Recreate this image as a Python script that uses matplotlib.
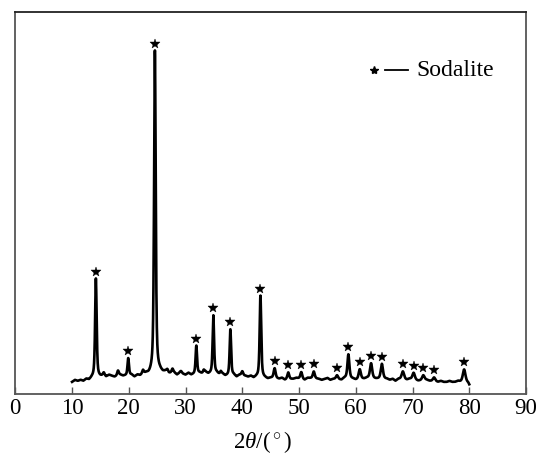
import numpy as np
import matplotlib
matplotlib.use("Agg")
import matplotlib.pyplot as plt

plt.rcParams['font.family'] = ['Liberation Serif', 'DejaVu Serif']
plt.rcParams['mathtext.fontset'] = 'custom'
plt.rcParams['mathtext.rm'] = 'Liberation Serif'
plt.rcParams['mathtext.it'] = 'Liberation Serif:italic'

# ---- data (intensity in arbitrary units) ----
# Sodalite peaks: position (2theta, deg) and net height above background
peak_pos = [14.2, 19.9, 24.6, 31.9, 34.9, 37.9, 43.2, 45.7, 48.1, 50.4, 52.6,
            56.7, 58.7, 60.7, 62.7, 64.6, 68.3, 70.2, 71.9, 73.8, 79.1]
peak_amp = [99, 17, 323, 28, 58, 46, 82, 10, 7, 7, 7,
            4, 24, 10, 15, 15, 8, 7, 5, 4, 13]
peak_fwhm = [0.32, 0.3, 0.34, 0.3, 0.3, 0.3, 0.32, 0.4, 0.4, 0.4, 0.4,
             0.45, 0.4, 0.45, 0.45, 0.45, 0.5, 0.5, 0.5, 0.5, 0.55]

# minor unmarked reflections
minor_pos = [15.6, 18.1, 22.5, 26.8, 27.7, 29.2, 33.2, 36.2, 40.0]
minor_amp = [3, 5, 4, 3, 4, 2, 3, 3, 4]

# background level (read every ~0.5 deg, includes visible wiggle)
bg_x = [10.0, 10.5, 11.0, 11.5, 12.0, 12.5, 13.0, 13.5, 15.0, 15.5, 16.0, 16.5,
        17.0, 17.5, 18.5, 19.0, 20.5, 21.0, 21.5, 22.0, 23.0, 23.5, 25.5, 26.0,
        26.5, 27.0, 28.0, 28.5, 29.0, 29.5, 30.0, 30.5, 31.0, 32.5, 33.0, 33.5,
        34.0, 35.5, 36.0, 36.5, 37.0, 38.5, 39.0, 39.5, 40.5, 41.0, 41.5, 42.0,
        42.5, 44.0, 44.5, 45.0, 46.5, 47.0, 47.5, 49.0, 49.5, 51.0, 51.5, 53.5,
        54.0, 54.5, 55.0, 55.5, 56.0, 57.5, 58.0, 59.5, 60.0, 61.5, 62.0, 63.5,
        65.5, 66.0, 66.5, 67.0, 67.5, 69.0, 69.5, 71.0, 72.5, 73.0, 74.5, 75.0,
        75.5, 76.0, 76.5, 77.0, 77.5, 78.0, 78.5, 79.8, 80.0]
bg_y = [12, 14, 13, 14, 13, 15, 14, 16, 17, 18, 17, 19,
        18, 17, 19, 18, 19, 17, 19, 18, 20, 19, 22, 21,
        22, 20, 21, 19, 21, 20, 19, 21, 19, 21, 20, 22,
        20, 21, 19, 20, 18, 19, 17, 19, 18, 17, 18, 16,
        17, 16, 15, 16, 15, 16, 14, 15, 16, 14, 16, 15,
        14, 15, 16, 14, 15, 14, 16, 15, 14, 15, 16, 15,
        15, 14, 15, 13, 15, 14, 15, 13, 14, 13, 12, 13,
        12, 12, 13, 12, 12, 13, 12, 11, 9]

xticks = [0, 10, 20, 30, 40, 50, 60, 70, 80, 90]

# ---- build the profile ----
x = np.linspace(10, 80, 3500)
y = np.interp(x, bg_x, bg_y).astype(float)


def pv(x, c, a, w, eta=0.6):
    g = np.exp(-4 * np.log(2) * (x - c) ** 2 / w ** 2)
    l = 1.0 / (1 + 4 * (x - c) ** 2 / w ** 2)
    return a * (eta * l + (1 - eta) * g)


for c, a, w in zip(peak_pos, peak_amp, peak_fwhm):
    y += pv(x, c, a, w)
for c, a in zip(minor_pos, minor_amp):
    y += pv(x, c, a, 0.35)

fig = plt.figure(figsize=(5.36, 4.55), dpi=100)
ax = fig.add_axes([15.3 / 536, 1 - 394 / 455, (526 - 15.3) / 536, (394 - 12) / 455])

ax.plot(x, y, color='black', lw=1.9, solid_joinstyle='round')

star_y = np.interp(peak_pos, x, y) + 7
ax.plot(peak_pos, star_y, linestyle='none', marker='*', color='black',
        markersize=7.5, markeredgewidth=0.3)

ax.set_xlim(0, 90)
ax.set_ylim(0, 382)
ax.set_xticks(xticks)
ax.set_xticklabels([str(t) for t in xticks])
ax.set_yticks([])
ax.tick_params(axis='x', direction='in', length=5, width=1, color='#555555',
               labelsize=16.5, pad=3)
for s in ax.spines.values():
    s.set_color('#555555')
    s.set_linewidth(1.3)
ax.spines['top'].set_color('#222222')

ax.set_xlabel(r'2$\it{\theta}$/($\,^{\circ}\,$)', fontsize=16.5)
ax.xaxis.set_label_coords(0.485, -0.092)

# legend: star + dash + text
ax.plot([0.702], [0.848], transform=ax.transAxes, marker='*', color='black',
        markersize=6, linestyle='none')
ax.plot([0.724, 0.769], [0.848, 0.848], transform=ax.transAxes, color='black', lw=1.3)
ax.text(0.786, 0.848, 'Sodalite', transform=ax.transAxes, fontsize=17,
        va='center', ha='left')

fig.savefig('out.png', dpi=100)
